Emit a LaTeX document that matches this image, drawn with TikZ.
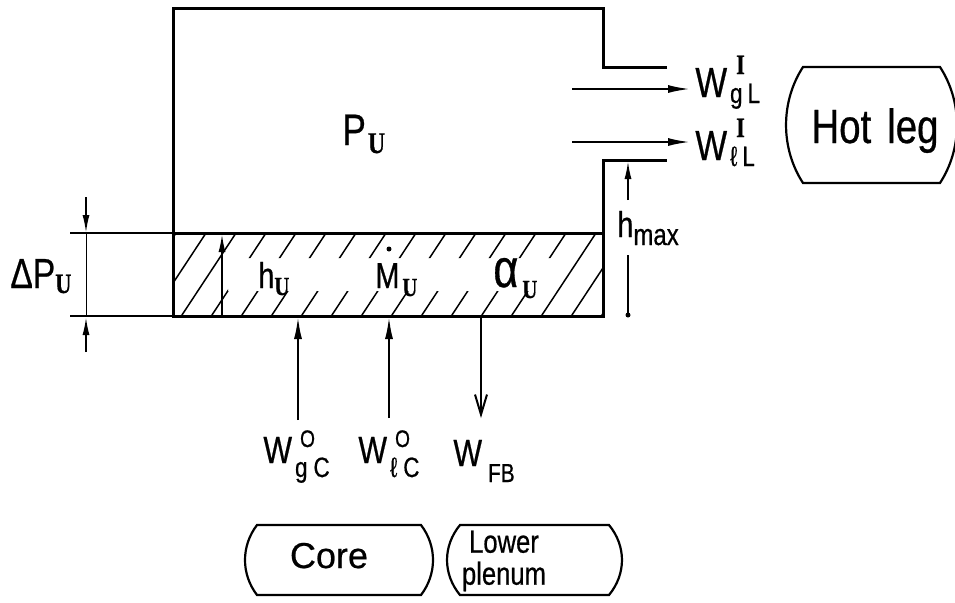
\documentclass[tikz,border=0pt]{standalone}
\usepackage{fontspec}
\setmainfont{Liberation Sans}[FakeBold=0.6]
\newfontfamily\cnd{Liberation Sans}[FakeStretch=0.8,FakeBold=0.6]
\newfontfamily\srf{Liberation Serif}[FakeStretch=0.8,FakeBold=0.6]
\usetikzlibrary{arrows.meta}
\newcommand{\fs}[1]{\fontsize{#1}{#1}\selectfont}
\begin{document}
\begin{tikzpicture}[x=0.5pt,y=-0.5pt,
  wall/.style={line width=1.5pt},
  dimline/.style={line width=0.8pt},
  flow/.style={line width=1pt,-{Latex[length=11pt,width=4pt]}},
  smallflow/.style={line width=0.9pt,-{Latex[length=9pt,width=3.5pt]}},
  barbflow/.style={line width=1pt,-{Straight Barb[length=10pt,width=6pt]}},
  hatchl/.style={line width=0.75pt},
  boxline/.style={line width=1.1pt},
  lbl/.style={inner sep=0pt,anchor=base west}]
\useasboundingbox (0,0) rectangle (955,602);
\clip (0,0) rectangle (955,602);

% vessel
\draw[wall] (667,67) -- (603,67) -- (603,8) -- (173,8) -- (173,316) -- (603,316) -- (603,160) -- (667,160);
\draw[wall] (173,233) -- (603,233);

% hatching of the liquid pool
\begin{scope}
  \clip (173,233) rectangle (228,316) (555,233) rectangle (603,316)
        (228,233) rectangle (555,258) (228,291) rectangle (555,316);
  \foreach \x in {120,150,...,630} \draw[hatchl] (\x,318) -- (\x+58,230);
\end{scope}

% outlet flows to hot leg
\coordinate (gl0) at (572,89);  \coordinate (gl1) at (690,89);
\coordinate (ll0) at (572,142); \coordinate (ll1) at (690,142);
\draw[flow] (gl0) -- (gl1);
\draw[flow] (ll0) -- (ll1);
\node[lbl,font=\cnd\fs{21}] (wgl) at (695,97)
  {W\rlap{\hspace{4.5pt}\raisebox{11.5pt}{\srf\bfseries\fs{14}I}}\raisebox{-3pt}{\fs{14}\hspace{1.5pt}g\hspace{2.5pt}L}};
\node[lbl,font=\cnd\fs{21}] (wll) at (695,160)
  {W\rlap{\hspace{4.5pt}\raisebox{11.5pt}{\srf\bfseries\fs{14}I}}\raisebox{-3pt}{\fs{14}\hspace{1.5pt}ℓ\hspace{2.5pt}L}};

% hot leg box
\draw[boxline] (803,67) -- (940,67) .. controls (962.6,101.8) and (962.6,148.2) .. (940,183)
  -- (803,183) .. controls (780.4,148.2) and (780.4,101.8) .. cycle;
\node[inner sep=0pt,anchor=base,font=\cnd\fs{24}] (hot) at (875,143) {Hot\hspace{8pt}leg};

% h_max
\coordinate (hm0) at (628,200); \coordinate (hm1) at (628,161);
\coordinate (hm2) at (628,255); \coordinate (hm3) at (628,315);
\draw[smallflow] (hm0) -- (hm1);
\draw[dimline] (hm2) -- (hm3);
\fill (hm3) circle (2.5);
\node[lbl,font=\cnd\fs{18}] (hmax) at (617,237) {h\raisebox{-4pt}{\fs{15}max}};

% h_U
\coordinate (hu0) at (222,315); \coordinate (hu1) at (222,234);
\draw[smallflow] (hu0) -- (hu1);

% Delta P
\coordinate (dp0) at (86,197); \coordinate (dp1) at (86,233);
\coordinate (dp2) at (86,352); \coordinate (dp3) at (86,317);
\draw[dimline] (70,233) -- (173,233);
\draw[dimline] (70,316) -- (173,316);
\draw[smallflow] (dp0) -- (dp1);
\draw[smallflow] (dp2) -- (dp3);
\draw[line width=0.4pt] (dp1) -- (dp3);
\node[lbl,font=\cnd\fs{21}] (dpu) at (10,288) {ΔP\raisebox{-2.5pt}{\srf\bfseries\fs{14}U}};

% labels in vessel
\node[lbl,font=\cnd\fs{22}] (pu) at (342,145) {P\raisebox{-4pt}{\srf\bfseries\fs{15}\hspace{1pt}U}};
\node[lbl,font=\cnd\fs{18}] (hu) at (258,288) {h\raisebox{-3.5pt}{\srf\bfseries\fs{13}U}};
\node[lbl,font=\cnd\fs{18}] (mu) at (375,288) {M\raisebox{-4pt}{\srf\bfseries\fs{13}\hspace{1.5pt}U}};
\fill (389,249) circle (2.5);
\node[lbl,font=\cnd\fs{27}] (au) at (493,287) {α\raisebox{-5.5pt}{\srf\bfseries\fs{13}\hspace{2pt}U}};

% inlet / outlet flows at bottom
\coordinate (gc0) at (298,420); \coordinate (gc1) at (298,317);
\coordinate (lc0) at (389,418); \coordinate (lc1) at (389,317);
\coordinate (fb0) at (481,317); \coordinate (fb1) at (481,418);
\draw[flow] (gc0) -- (gc1);
\draw[flow] (lc0) -- (lc1);
\draw[barbflow] (fb0) -- (fb1);
\node[lbl,font=\cnd\fs{19}] (wgc) at (263,463)
  {W\rlap{\hspace{4pt}\raisebox{8pt}{\fs{12}O}}\raisebox{-7pt}{\fs{14}\hspace{1.5pt}g\hspace{3pt}C}};
\node[lbl,font=\cnd\fs{19}] (wlc) at (358,463)
  {W\rlap{\hspace{4pt}\raisebox{8pt}{\fs{12}O}}\raisebox{-7pt}{\fs{14}\hspace{1.5pt}ℓ\hspace{3pt}C}};
\node[lbl,font=\cnd\fs{19}] (wfb) at (453,466)
  {W\raisebox{-8pt}{\fs{13}\hspace{3pt}FB}};

% core and lower plenum boxes
\draw[boxline] (257,525) -- (421,525) .. controls (437,546) and (437,574) .. (421,595)
  -- (257,595) .. controls (241,574) and (241,546) .. cycle;
\node[inner sep=0pt,anchor=base,font=\fs{18}] (core) at (329,568) {Core};
\draw[boxline] (460,525) -- (609,525) .. controls (626.3,546) and (626.3,574) .. (609,595)
  -- (460,595) .. controls (442.7,574) and (442.7,546) .. cycle;
\node[inner sep=0pt,align=center,font=\cnd\fontsize{16}{16}\selectfont] (lp) at (504,561) {Lower\\plenum};
\end{tikzpicture}
\end{document}
